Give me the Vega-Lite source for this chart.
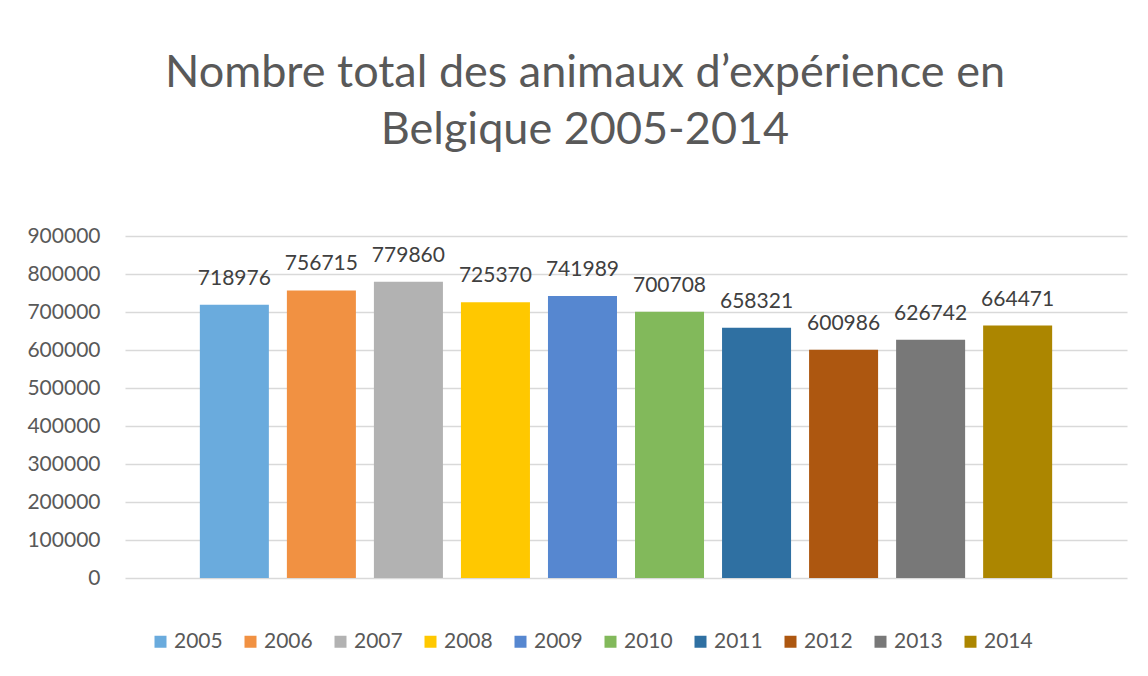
{
  "$schema": "https://vega.github.io/schema/vega-lite/v6.json",
  "width": 1002,
  "height": 342,
  "autosize": {"type": "none"},
  "padding": {"left": 125, "top": 236, "right": 21, "bottom": 98},
  "background": "white",
  "config": {"view": {"stroke": null}, "font": "Lato"},
  "title": {
    "text": ["Nombre total des animaux d’expérience en", "Belgique 2005-2014"],
    "font": "Lato",
    "fontSize": 45,
    "fontWeight": "normal",
    "color": "#595959",
    "anchor": "middle",
    "frame": "group",
    "dx": -41,
    "offset": 72,
    "lineHeight": 57
  },
  "data": {
    "values": [
      {"annee": "2005", "nombre": 718976},
      {"annee": "2006", "nombre": 756715},
      {"annee": "2007", "nombre": 779860},
      {"annee": "2008", "nombre": 725370},
      {"annee": "2009", "nombre": 741989},
      {"annee": "2010", "nombre": 700708},
      {"annee": "2011", "nombre": 658321},
      {"annee": "2012", "nombre": 600986},
      {"annee": "2013", "nombre": 626742},
      {"annee": "2014", "nombre": 664471}
    ]
  },
  "encoding": {
    "x": {
      "field": "annee",
      "type": "nominal",
      "axis": null,
      "scale": {"paddingInner": 0.207, "paddingOuter": 0.86}
    },
    "y": {
      "field": "nombre",
      "type": "quantitative",
      "scale": {"domain": [0, 900000], "nice": false},
      "axis": {
        "title": null,
        "values": [0, 100000, 200000, 300000, 400000, 500000, 600000, 700000, 800000, 900000],
        "format": "d",
        "domain": false,
        "ticks": false,
        "labelPadding": 25,
        "labelFont": "Lato",
        "labelFontSize": 21,
        "labelColor": "#595959",
        "gridColor": "#d9d9d9",
        "gridWidth": 1.5
      }
    }
  },
  "layer": [
    {
      "mark": {"type": "bar"},
      "encoding": {
        "color": {
          "field": "annee",
          "type": "nominal",
          "scale": {
            "domain": ["2005", "2006", "2007", "2008", "2009", "2010", "2011", "2012", "2013", "2014"],
            "range": ["#6AABDD", "#F19142", "#B2B2B2", "#FFC800", "#5687D0", "#82B95B", "#2F70A2", "#AD5710", "#787878", "#AC8600"]
          },
          "legend": {
            "title": null,
            "orient": "none",
            "legendX": 25,
            "legendY": 395,
            "direction": "horizontal",
            "columns": 10,
            "columnPadding": 17,
            "symbolType": "square",
            "symbolSize": 144,
            "symbolStrokeWidth": 0,
            "labelFont": "Lato",
            "labelFontSize": 21,
            "labelColor": "#595959",
            "labelOffset": 3
          }
        }
      }
    },
    {
      "mark": {"type": "text", "baseline": "alphabetic", "dy": -20, "font": "Lato", "fontSize": 21, "color": "#404040"},
      "encoding": {
        "text": {"field": "nombre", "type": "quantitative", "format": "d"}
      }
    }
  ]
}
